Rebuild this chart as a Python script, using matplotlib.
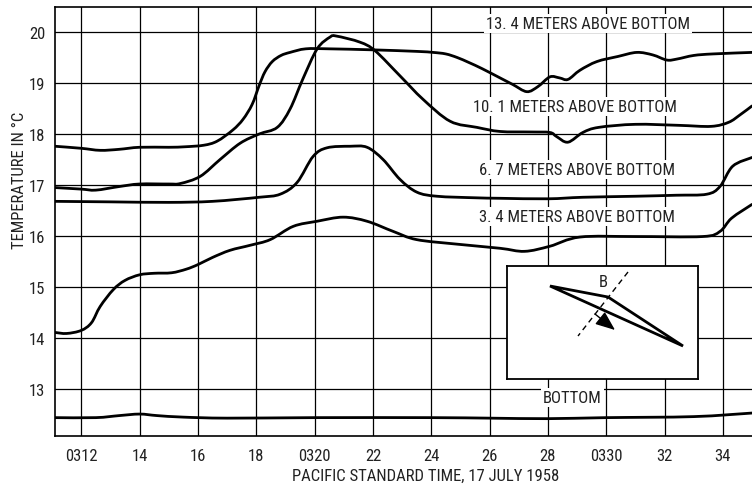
import matplotlib
matplotlib.use("Agg")
import matplotlib.pyplot as plt
from matplotlib.path import Path
from matplotlib.patches import Polygon, FancyArrowPatch, PathPatch

plt.rcParams['font.family'] = ['Roboto Condensed', 'DejaVu Sans']

# minutes after 0300 PST, 17 July 1958  /  temperature in deg C
t_134 = [11.1, 12.0, 12.65, 13.3, 14.0, 15.0, 15.56, 16.2, 16.66, 17.2, 17.55, 17.86,
         18.1, 18.3, 18.55, 18.85, 19.16, 19.7, 20.5, 22.0, 23.5, 24.06, 24.5, 24.89, 25.3,
         25.75, 26.36, 26.8, 27.28, 27.66, 28.07, 28.4, 28.69, 29.1, 29.68, 30.4,
         31.05, 31.6, 32.08, 32.43, 33.0, 33.66, 35.0]
v_134 = [17.76, 17.72, 17.68, 17.70, 17.74, 17.74, 17.75, 17.78, 17.86, 18.08, 18.29, 18.58,
         18.95, 19.22, 19.42, 19.54, 19.60, 19.67, 19.67, 19.65, 19.62, 19.60, 19.57, 19.50, 19.40,
         19.28, 19.10, 18.97, 18.83, 18.93, 19.12, 19.10, 19.07, 19.25, 19.42, 19.52,
         19.60, 19.55, 19.45, 19.47, 19.54, 19.57, 19.60]

t_101 = [11.1, 12.0, 12.5, 13.3, 14.0, 15.0, 15.4, 16.08, 16.76, 17.45, 18.1, 18.72,
         19.16, 19.6, 20.09, 20.53, 20.75, 21.56, 22.08, 22.93, 23.72, 24.65, 25.57,
         26.36, 27.4, 28.07, 28.3, 28.69, 29.2, 29.74, 31.0, 32.5, 33.6, 34.2, 34.6, 35.0]
v_101 = [16.95, 16.92, 16.90, 16.97, 17.02, 17.02, 17.03, 17.17, 17.50, 17.82, 18.00, 18.13,
         18.49, 19.08, 19.67, 19.90, 19.92, 19.80, 19.63, 19.14, 18.68, 18.25, 18.13,
         18.05, 18.04, 18.03, 17.95, 17.84, 18.03, 18.13, 18.19, 18.17, 18.15, 18.23, 18.38, 18.55]

t_67 = [11.1, 13.0, 15.0, 16.5, 18.1, 18.82, 19.4, 19.95, 20.43, 21.22, 21.8, 22.35,
        22.93, 23.51, 24.2, 25.5, 26.36, 28.0, 29.2, 31.0, 32.4, 33.45, 33.9, 34.34, 35.0]
v_67 = [16.68, 16.67, 16.66, 16.68, 16.76, 16.82, 17.05, 17.56, 17.73, 17.76, 17.74, 17.50,
        17.11, 16.86, 16.78, 16.75, 16.74, 16.73, 16.76, 16.78, 16.80, 16.82, 16.97, 17.37, 17.54]

t_34 = [11.1, 11.5, 12.0, 12.35, 12.65, 13.1, 13.5, 14.0, 14.5, 15.1, 15.6, 16.0, 16.5,
        17.1, 17.8, 18.48, 19.27, 20.09, 20.98, 21.8, 22.7, 23.5, 24.9, 26.36, 27.2,
        28.07, 29.1, 31.0, 33.3, 33.9, 34.3, 35.0]
v_34 = [14.11, 14.09, 14.15, 14.30, 14.62, 14.95, 15.13, 15.24, 15.27, 15.28, 15.35, 15.44, 15.58,
        15.72, 15.82, 15.93, 16.19, 16.29, 16.37, 16.29, 16.09, 15.93, 15.84, 15.76, 15.70,
        15.80, 15.98, 15.99, 15.99, 16.09, 16.35, 16.62]

t_bot = [11.1, 12.5, 13.3, 14.0, 14.6, 15.5, 17.0, 20.0, 24.0, 26.0, 28.0, 30.0, 33.0, 35.0]
v_bot = [12.44, 12.44, 12.48, 12.51, 12.48, 12.45, 12.43, 12.44, 12.44, 12.43, 12.42, 12.44, 12.46, 12.53]

series = [(t_134, v_134), (t_101, v_101), (t_67, v_67), (t_34, v_34), (t_bot, v_bot)]

labels = ['13. 4 METERS ABOVE BOTTOM', '10. 1 METERS ABOVE BOTTOM',
          '6. 7 METERS ABOVE BOTTOM', '3. 4 METERS ABOVE BOTTOM', 'BOTTOM']
label_pos = [(29.37, 20.16), (28.93, 18.53), (29.0, 17.31), (29.0, 16.39), (28.84, 12.83)]

x_ticks = [12, 14, 16, 18, 20, 22, 24, 26, 28, 30, 32, 34]
x_ticklabels = ['0312', '14', '16', '18', '0320', '22', '24', '26', '28', '0330', '32', '34']
y_ticks = [13, 14, 15, 16, 17, 18, 19, 20]

# inset sketch (inset pixel units)
wedge = [(43, 20), (101, 31), (176, 80)]
section_line = [(121, 6), (71, 70)]
flow_arrow = [(88, 48), (108, 64)]


def smooth_path(xs, ys):
    # Catmull-Rom through the read points, drawn as cubic Bezier segments
    pts = list(zip(xs, ys))
    verts = [pts[0]]
    codes = [Path.MOVETO]
    n = len(pts)
    for i in range(n - 1):
        p0 = pts[max(i - 1, 0)]
        p1 = pts[i]
        p2 = pts[i + 1]
        p3 = pts[min(i + 2, n - 1)]
        c1 = (p1[0] + (p2[0] - p0[0]) / 6, p1[1] + (p2[1] - p0[1]) / 6)
        c2 = (p2[0] - (p3[0] - p1[0]) / 6, p2[1] - (p3[1] - p1[1]) / 6)
        verts += [c1, c2, p2]
        codes += [Path.CURVE4] * 3
    return Path(verts, codes)


fig = plt.figure(figsize=(7.52, 4.89), dpi=100)
ax = fig.add_axes([55 / 752, 1 - 437 / 489, 697 / 752, 429 / 489])

for t, v in series:
    ax.add_patch(PathPatch(smooth_path(t, v), fill=False, ec='black', lw=2.0,
                           capstyle='round', zorder=3))

ax.set_xlim(11.1, 35.0)
ax.set_ylim(12.08, 20.49)
ax.set_xticks(x_ticks)
ax.set_xticklabels(x_ticklabels)
ax.set_yticks(y_ticks)
ax.tick_params(length=0, labelsize=12, colors='#222222')
ax.tick_params(axis='x', pad=9)
ax.tick_params(axis='y', pad=7)
ax.grid(True, color='black', lw=0.9)
ax.set_axisbelow(True)
for s in ['left', 'top', 'bottom']:
    ax.spines[s].set_linewidth(1.2)
ax.spines['right'].set_visible(False)

for txt, (x, y) in zip(labels, label_pos):
    ax.text(x, y, txt, ha='center', va='center', fontsize=12, color='#222222', zorder=4,
            bbox=dict(facecolor='white', edgecolor='none', pad=1.5))

fig.text(20 / 752, 1 - 180 / 489, 'TEMPERATURE IN °C', rotation=90, ha='center', va='center',
         fontsize=12, color='#222222')
fig.text(426 / 752, 1 - 476 / 489, 'PACIFIC STANDARD TIME, 17 JULY 1958', ha='center',
         va='center', fontsize=12, color='#222222')

# inset
axi = fig.add_axes([507 / 752, 1 - 380 / 489, 191 / 752, 113 / 489])
axi.set_xlim(0, 191)
axi.set_ylim(113, 0)
axi.set_xticks([])
axi.set_yticks([])
axi.set_facecolor('white')
for s in axi.spines.values():
    s.set_linewidth(1.3)
axi.add_patch(Polygon(wedge, closed=True, fill=False, ec='black', lw=2.0, joinstyle='miter'))
axi.plot(*zip(*section_line), color='black', lw=1.0, ls=(0, (4, 3)))
axi.add_patch(FancyArrowPatch(flow_arrow[0], flow_arrow[1],
                              arrowstyle='-|>,head_length=8,head_width=3.2',
                              color='black', lw=1.0, mutation_scale=1.5,
                              shrinkA=0, shrinkB=0))
axi.text(96, 16, 'B', ha='center', va='center', fontsize=12, color='#222222')

fig.savefig('out.png', dpi=100)
